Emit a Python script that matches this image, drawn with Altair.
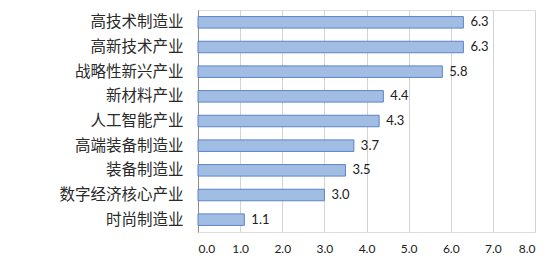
import altair as alt
import pandas as pd

categories = ["高技术制造业", "高新技术产业", "战略性新兴产业", "新材料产业", "人工智能产业",
              "高端装备制造业", "装备制造业", "数字经济核心产业", "时尚制造业"]
values = [6.3, 6.3, 5.8, 4.4, 4.3, 3.7, 3.5, 3.0, 1.1]
x_ticks = [0, 1, 2, 3, 4, 5, 6, 7, 8]

df = pd.DataFrame({"cat": categories, "val": values})

y = alt.Y("cat:N", sort=categories, title=None,
          scale=alt.Scale(paddingInner=0.5, paddingOuter=0.25),
          axis=alt.Axis(ticks=False, domain=True, domainColor="#8c8c8c", labelPadding=15,
                        labelFont="Noto Sans CJK SC", labelFontSize=15.5, labelColor="#2a2a2a",
                        grid=False))
x = alt.X("val:Q", title=None, scale=alt.Scale(domain=[0, 8], nice=False),
          axis=alt.Axis(values=x_ticks, format=".1f", domain=False, ticks=False,
                        grid=True, gridColor="#d4d4d4", labelPadding=11,
                        labelFont="Lato", labelFontSize=12, labelColor="#202020"))

bars = alt.Chart(df).mark_bar(size=11.5, fill="#a2bde3", stroke="#5a83c8", strokeWidth=1).encode(x=x, y=y)
labels = alt.Chart(df).mark_text(align="left", dx=7, font="Lato", fontSize=13, color="#202020").encode(
    x=alt.X("val:Q"), y=alt.Y("cat:N", sort=categories), text=alt.Text("val:Q", format=".1f"))

chart = (bars + labels).properties(
    width=337, height=222,
    autosize=alt.AutoSizeParams(type="none"),
    padding={"left": 198, "top": 10, "right": 18, "bottom": 36},
).configure_view(stroke=None).configure(background="white")

chart.save("out.html", embed_options={"renderer": "svg", "actions": False})
